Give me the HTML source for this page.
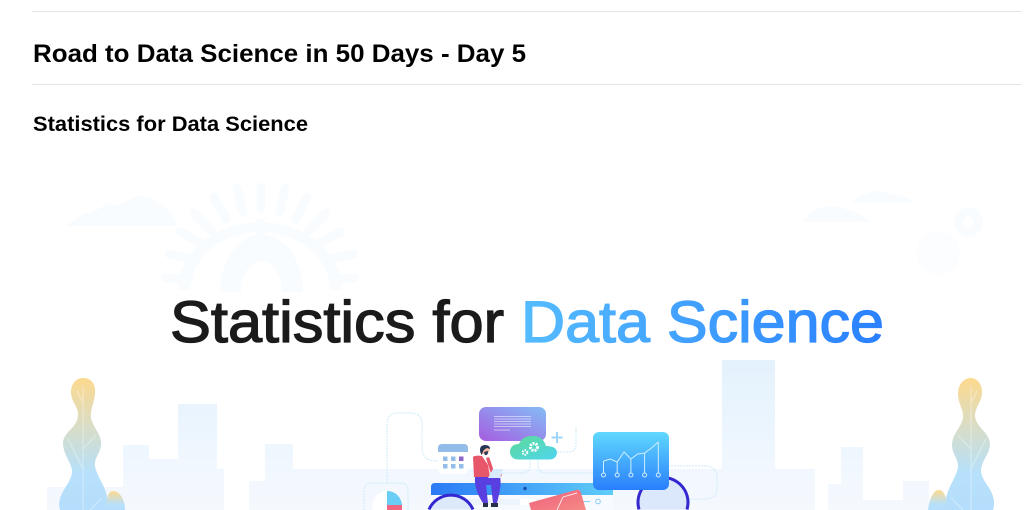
<!DOCTYPE html>
<html lang="en">
<head>
<meta charset="utf-8">
<title>Road to Data Science in 50 Days - Day 5</title>
<style>
html,body{margin:0;padding:0;background:#fff;width:1034px;height:510px;overflow:hidden}
svg{display:block;font-family:"Liberation Sans",sans-serif}
</style>
</head>
<body>
<svg id="scene" width="1034" height="510" viewBox="0 0 1034 510" xmlns="http://www.w3.org/2000/svg">
<defs>
<linearGradient id="bld" gradientUnits="userSpaceOnUse" x1="0" y1="360" x2="0" y2="510"><stop offset="0" stop-color="#e4f2fd"/><stop offset="1" stop-color="#f5f9fe"/></linearGradient>
<linearGradient id="tree" x1="0" y1="0" x2="0" y2="1"><stop offset="0" stop-color="#fdd98e"/><stop offset=".72" stop-color="#b6e0fb"/><stop offset="1" stop-color="#b4defb"/></linearGradient>
<linearGradient id="blueText" gradientUnits="userSpaceOnUse" x1="521" y1="0" x2="884" y2="0"><stop offset="0" stop-color="#55bcff"/><stop offset="1" stop-color="#2a80ff"/></linearGradient>
<linearGradient id="purple" x1="0" y1="1" x2="1" y2="0"><stop offset="0" stop-color="#a55de0"/><stop offset="1" stop-color="#84bdf6"/></linearGradient>
<linearGradient id="cloudG" x1="0" y1="0" x2="1" y2="1"><stop offset="0" stop-color="#5cdb95"/><stop offset="1" stop-color="#4fd5f0"/></linearGradient>
<linearGradient id="card" x1="0" y1="0" x2="0" y2="1"><stop offset="0" stop-color="#60d8fd"/><stop offset="1" stop-color="#2a7ffc"/></linearGradient>
<linearGradient id="bar" x1="0" y1="0" x2="1" y2="0"><stop offset="0" stop-color="#2a7af5"/><stop offset="1" stop-color="#5fcdf9"/></linearGradient>
<linearGradient id="red" x1="0" y1="0" x2="1" y2="1"><stop offset="0" stop-color="#ef5f7c"/><stop offset="1" stop-color="#f58a86"/></linearGradient>
</defs>

<rect width="1034" height="510" fill="#fff"/>
<rect x="32" y="11" width="990" height="1" fill="#e6e6e6"/>
<text x="33" y="62" font-size="25" font-weight="700" fill="#000" textLength="493" lengthAdjust="spacingAndGlyphs">Road to Data Science in 50 Days - Day 5</text>
<rect x="32" y="84" width="990" height="1" fill="#e6e6e6"/>
<text x="33" y="131" font-size="21.5" font-weight="700" fill="#000" textLength="275" lengthAdjust="spacingAndGlyphs">Statistics for Data Science</text>

<g fill="#f9fcff">
  <g id="sun">
    <path d="M178 290 A82 68 0 0 1 342 290 L330 290 A70 58 0 0 0 190 290Z"/>
    <path d="M220 292a41 57 0 0 1 83 0h-21a20 30 0 0 0-41 0z"/>
    <rect x="256" y="219" width="9" height="17"/>
    <g stroke="#f9fcff" stroke-width="9" stroke-linecap="round" fill="none">
      <path d="M261 187V208M237 188L243 212M285 188L280 212M214 197L226 219M307 197L296 219M194 213L212 231M326 213L308 231M180 232L202 243M341 232L318 243M169 254L196 260M353 254L326 260M166 278H190M354 278H332"/>
    </g>
  </g>
  <path d="M65 226 L85 213 L92 212 L108 204 L118 205 L138 196 L152 198 L172 213 L178 226Z"/>
  <path d="M853 203 C855 196 864 197 870 191 C880 190 890 194 905 196 L916 203Z"/>
  <path d="M802 222 C808 218 812 208 822 208 C832 203 842 208 855 212 L872 222Z"/>
  <circle cx="968.500" cy="222" r="10" fill="none" stroke="#f9fcff" stroke-width="9"/>
  <circle cx="938" cy="253" r="22" fill="#fbfdff"/>
</g>

<g font-size="58">
  <text x="170" y="342" fill="#1b1b1b" stroke="#1b1b1b" stroke-width="1.300" textLength="334" lengthAdjust="spacingAndGlyphs">Statistics for</text>
  <text x="521" y="342" fill="url(#blueText)" stroke="url(#blueText)" stroke-width="1.300" textLength="363" lengthAdjust="spacingAndGlyphs">Data Science</text>
</g>

<g fill="url(#bld)">
  <path d="M47 510V487H123V445H149V459H178V404H217V469H224V510Z"/>
  <path d="M249 510V481H265V444H293V469H722V360H775V469H815V510Z"/>
  <path d="M828 510V484H841V447H863V500H903V481H929V510Z"/>
</g>

<g>
  <path d="M83 378C92 378 96 385 95 394C94 404 90 410 91 418C93 428 102 434 101 445C100 454 94 458 95 466C97 478 108 488 108 505L107 510H60L59 505C60 490 71 484 72 472C72 462 63 456 63 442C65 430 78 428 78 414C78 406 71 402 71 392C71 384 76 378 83 378Z" fill="url(#tree)"/>
  <path d="M83 386V510M77 391L83 403M68 439L83 469M96 435L83 449M102 498L90 510" stroke="#fff" stroke-opacity=".35" stroke-width="1.200" fill="none"/>
  <path d="M113 491C120 491 125 500 125 510H106C106 500 108 491 113 491Z" fill="url(#tree)"/>
</g>
<g>
  <path d="M971 378C977 378 982 384 982 392C982 402 975 407 975 416C976 428 990 432 990 445C989 456 981 460 981 472C983 484 995 490 994 505L993 510H946L945 505C946 488 957 478 958 466C958 458 952 454 952 445C952 434 961 428 963 418C964 410 958 404 958 394C958 385 963 378 971 378Z" fill="url(#tree)"/>
  <path d="M971 386V510M977 391L971 403M958 435L971 449M986 439L971 469M951 498L963 510" stroke="#fff" stroke-opacity=".35" stroke-width="1.200" fill="none"/>
  <path d="M939 490C945 490 947 500 947 510H928C929 500 933 490 939 490Z" fill="url(#tree)"/>
</g>

<g fill="none" stroke="#cdeafa" stroke-width="1" stroke-dasharray="2 1">
  <path d="M387 483V424Q387 413 398 413H411Q422 413 422 424V447Q422 461 436 461H440"/>
  <path d="M576 427V444Q576 452 568 452H552"/>
  <path d="M530 460V465Q530 473 522 473H500"/>
  <path d="M538 460V465Q538 473 546 473H596"/>
  <path d="M665 466H705Q717 466 717 478V488Q717 499 705 499H686"/>
  <path d="M364 510V491Q364 483 372 483H400Q408 483 408 491V510"/>
</g>

<g>
  <path d="M373 510A15 15 0 0 1 387 491V510Z" fill="#fff"/>
  <path d="M387 508V491A15 15 0 0 1 402 505Z" fill="#69cef5"/>
  <path d="M387 505H402V510H387Z" fill="#f0657f"/>
</g>

<g>
  <path d="M431 510V487Q431 483 435 483H609Q613 483 613 487V510Z" fill="#f7fbff"/>
  <path d="M431 495V487Q431 483 435 483H609Q613 483 613 487V495Z" fill="url(#bar)"/>
  <circle cx="525" cy="488.500" r="1.700" fill="#1a4fa8"/>
  <rect x="445" y="499" width="95" height="6" fill="#eef4fc"/>
  <rect x="520" y="499" width="16" height="6" fill="#fff"/>
  <path d="M582 501.500H590" stroke="#8ccdf3" stroke-width="1"/>
  <circle cx="598" cy="501.500" r="2.300" fill="none" stroke="#8ccdf3"/>
</g>
<path d="M429 509.500A24 24 0 0 1 473 509.500" fill="#dbe9fb" stroke="#3527cf" stroke-width="3"/>
<path d="M639 509.500A25 25 0 1 1 687 509.500" fill="#dbe8fb" stroke="#3527cf" stroke-width="3"/>
<g>
  <path d="M529 503L576 490Q580 489 581 493L586 510H531Z" fill="url(#red)"/>
  <path d="M557 510L563 497L577 493" fill="none" stroke="#fff" stroke-opacity=".8" stroke-width="1"/>
</g>

<g>
  <rect x="479" y="407" width="67" height="34" rx="7" fill="url(#purple)"/>
  <path d="M494 416.500H531M494 419H531M494 421.500H531M494 424H531M494 426.500H531M494 430H510" stroke="#fff" stroke-opacity=".5" stroke-width="1"/>
</g>
<path d="M557 432V443M551.500 437.500H562.500" stroke="#9ed4fa" stroke-width="2"/>
<g>
  <path d="M518 459.500Q510 459 510 451Q511 444 519 444Q522 436 533 436Q543 436 546 446Q557 446 557 453Q556 459.500 549 459.500Z" fill="url(#cloudG)"/>
  <circle cx="534" cy="447" r="3.500" fill="none" stroke="#fff" stroke-width="3" stroke-dasharray="2 1"/>
  <circle cx="525" cy="452.500" r="2.300" fill="none" stroke="#fff" stroke-width="2" stroke-dasharray="1.500 1"/>
</g>
<g>
  <rect x="438" y="444" width="30" height="30" rx="4" fill="#fff"/>
  <path d="M438 452V448Q438 444 442 444H464Q468 444 468 448V452Z" fill="#93bde8"/>
  <g fill="#93bde8">
    <rect x="443" y="456.500" width="4.500" height="4.500"/><rect x="451" y="456.500" width="4.500" height="4.500"/>
    <rect x="443" y="464" width="4.500" height="4.500"/><rect x="451" y="464" width="4.500" height="4.500"/><rect x="459" y="464" width="4.500" height="4.500"/>
    <rect x="459" y="456.500" width="4.500" height="4.500" fill="#8a67c9"/>
  </g>
</g>
<g>
  <path d="M482 456Q475 455 473 457L474 477H490L488 465Z" fill="#e8566a"/>
  <path d="M488 459L493 474L500 475" stroke="#e8566a" stroke-width="3.500" fill="none" stroke-linecap="round"/>
  <circle cx="485" cy="450" r="4.500" fill="#f2b8a0"/>
  <path d="M480 450Q480 445 485 445Q490 445 490 449L487 448Q483 449 482 455Q480 453 480 450Z" fill="#263556"/>
  <path d="M488 451Q488 456 485 455L484 452Z" fill="#263556"/>
  <path d="M475 477H500Q502 484 497 503H493L491 485H486L488 503H483Q474 490 475 477Z" fill="#5a3fe0"/>
  <path d="M483 503H488V507H483ZM491 503H498V507H491Z" fill="#27304a"/>
  <path d="M488 478L493 469H503L500 478Z" fill="#d7ebfd"/>
</g>

<g id="mini-chart">
  <rect x="593" y="432" width="76" height="58" rx="6" fill="url(#card)"/>
</g>
<script>
var chartSteps = [0, 1, 2, 3, 4, 5, 6, 7, 8];
var chartValues = [14, 16, 13, 23, 16, 21, 22, 27, 33];
var svgNS = 'http://www.w3.org/2000/svg';
var group = document.getElementById('mini-chart');
function chartX(step) { return 603.5 + step * 6.85; }
function chartY(value) { return 475 - value; }
var line = document.createElementNS(svgNS, 'polyline');


line.setAttribute('fill', 'none');
line.setAttribute('stroke', '#cfeefe');
line.setAttribute('stroke-width', '1');
line.setAttribute('points', chartSteps.map(function (s, i) { return chartX(s) + ',' + chartY(chartValues[i]); }).join(' '));
group.appendChild(line);
chartSteps.forEach(function (s, i) {
  if (s % 2) { return; }
  var stem = document.createElementNS(svgNS, 'line');
  
  
  stem.setAttribute('x1', chartX(s));
  stem.setAttribute('x2', chartX(s));
  stem.setAttribute('y1', chartY(chartValues[i]));
  stem.setAttribute('y2', chartY(0) - 2);
  stem.setAttribute('stroke', '#cfeefe');
  stem.setAttribute('stroke-width', '1');
  group.appendChild(stem);
  var dot = document.createElementNS(svgNS, 'circle');
  
  
  dot.setAttribute('cx', chartX(s));
  dot.setAttribute('cy', chartY(0));
  dot.setAttribute('r', '2');
  dot.setAttribute('fill', 'none');
  dot.setAttribute('stroke', '#cfeefe');
  group.appendChild(dot);
});
</script>
</svg>
</body>
</html>
